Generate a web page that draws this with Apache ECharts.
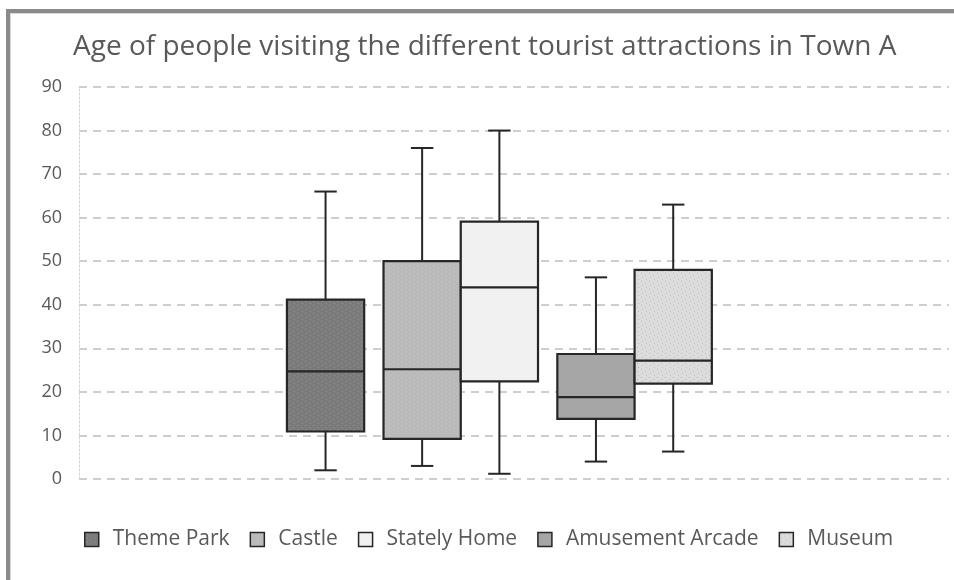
<!DOCTYPE html>
<html>
<head>
<meta charset="utf-8">
<script src="https://cdn.jsdelivr.net/npm/echarts@6/dist/echarts.min.js"></script>
<style>
  html, body { margin: 0; padding: 0; background: #ffffff; }
  #frame { position: absolute; left: 6px; top: 9px; right: 0; bottom: 0;
           border-left: 4px solid #8a8a8a; border-top: 4px solid #8a8a8a;
           box-shadow: inset 1px 1px 0 #d8d8d8; }
  #chart { position: absolute; left: 0; top: 0; width: 954px; height: 580px; }
</style>
</head>
<body>
<div id="frame"></div>
<div id="chart"></div>
<script>
// ---- data ----
const titleText = 'Age of people visiting the different tourist attractions in Town A';
const seriesNames = ['Theme Park', 'Castle', 'Stately Home', 'Amusement Arcade', 'Museum'];
const minimums = [2, 3, 1.2, 4, 6.3];
const lowerQuartiles = [10.9, 9.2, 22.4, 13.8, 21.9];
const medians = [24.7, 25.2, 44, 18.8, 27.2];
const upperQuartiles = [41.2, 50, 59.1, 28.7, 48];
const maximums = [66, 76, 80, 46.3, 63];
const yTicks = { min: 0, max: 90, interval: 10 };

// ---- styles ----
const fills = [
  { base: '#7b7b7b', dot: '#939393' },
  { base: '#bababa', dot: '#c6c6c6' },
  { base: '#f1f1f1', dot: null },
  { base: '#a6a6a6', dot: null },
  { base: '#dcdcdc', dot: '#bcbcbc' }
];
function makePattern(f) {
  const c = document.createElement('canvas');
  c.width = 8; c.height = 8;
  const ctx = c.getContext('2d');
  ctx.fillStyle = f.base; ctx.fillRect(0, 0, 8, 8);
  if (f.dot) {
    ctx.fillStyle = f.dot;
    ctx.fillRect(1, 1, 1, 1);
    ctx.fillRect(5, 3, 1, 1);
    ctx.fillRect(2, 5, 1, 1);
    ctx.fillRect(6, 7, 1, 1);
  }
  return { image: c, repeat: 'repeat' };
}
const patterns = fills.map(makePattern);
const strokeColor = '#262626';

// layout of boxes inside the single category band (fractions of band width)
const BOX_FRAC = 0.0888;
const GROUP_START = 0.239;
const GAP_AFTER = [0.25, 0, 0.25, 0]; // gap after each box, in box widths
const CAP_FRAC = 0.29;

function renderItem(params, api) {
  const si = params.seriesIndex;
  const band = api.size([1, 0])[0];
  const center = api.coord([api.value(0), 0])[0];
  const w = band * BOX_FRAC;
  let x = center - band / 2 + band * GROUP_START;
  for (let i = 0; i < si; i++) x += w * (1 + GAP_AFTER[i]);
  const cx = x + w / 2;
  const yMin = api.coord([0, api.value(1)])[1];
  const yQ1 = api.coord([0, api.value(2)])[1];
  const yMed = api.coord([0, api.value(3)])[1];
  const yQ3 = api.coord([0, api.value(4)])[1];
  const yMax = api.coord([0, api.value(5)])[1];
  const cap = w * CAP_FRAC;
  const ls = { stroke: strokeColor, lineWidth: 2 };
  return {
    type: 'group',
    children: [
      { type: 'line', shape: { x1: cx, y1: yQ3, x2: cx, y2: yMax }, style: ls },
      { type: 'line', shape: { x1: cx, y1: yQ1, x2: cx, y2: yMin }, style: ls },
      { type: 'line', shape: { x1: cx - cap / 2, y1: yMax, x2: cx + cap / 2, y2: yMax }, style: ls },
      { type: 'line', shape: { x1: cx - cap / 2, y1: yMin, x2: cx + cap / 2, y2: yMin }, style: ls },
      { type: 'rect', shape: { x: x, y: yQ3, width: w, height: yQ1 - yQ3 },
        style: { fill: patterns[si], stroke: strokeColor, lineWidth: 2.2 } },
      { type: 'line', shape: { x1: x, y1: yMed, x2: x + w, y2: yMed }, style: { stroke: strokeColor, lineWidth: 2.2 } }
    ]
  };
}

const series = seriesNames.map((name, i) => ({
  name: name,
  type: 'custom',
  renderItem: renderItem,
  encode: { x: 0, y: [1, 2, 3, 4, 5] },
  itemStyle: { color: patterns[i], borderColor: strokeColor, borderWidth: 1.5 },
  data: [[0, minimums[i], lowerQuartiles[i], medians[i], upperQuartiles[i], maximums[i]]]
}));

const chart = echarts.init(document.getElementById('chart'), null, { renderer: 'canvas' });
chart.setOption({
  backgroundColor: 'transparent',
  animation: false,
  textStyle: { fontFamily: 'Open Sans' },
  title: {
    text: titleText,
    left: 68,
    top: 28,
    textStyle: { fontFamily: 'Open Sans', fontSize: 28, fontWeight: 'normal', color: '#595959' }
  },
  legend: {
    data: seriesNames,
    bottom: 25,
    left: 79,
    icon: 'rect',
    itemWidth: 14,
    itemHeight: 14,
    itemGap: 20,
    itemStyle: { borderColor: strokeColor, borderWidth: 1.5 },
    textStyle: { fontFamily: 'Open Sans', fontSize: 21, color: '#595959', padding: [0, 0, 0, 9] }
  },
  grid: { left: 79, right: 5, top: 87, bottom: 101, containLabel: false },
  xAxis: {
    type: 'category',
    data: ['Town A'],
    axisLine: { show: false },
    axisTick: { show: false },
    axisLabel: { show: false },
    splitLine: { show: false }
  },
  yAxis: {
    type: 'value',
    min: yTicks.min,
    max: yTicks.max,
    interval: yTicks.interval,
    axisLine: { show: true, lineStyle: { color: '#d4d4d4', width: 1, type: [2, 2] } },
    axisTick: { show: false },
    axisLabel: { fontFamily: 'Open Sans', fontSize: 18, color: '#595959', margin: 17 },
    splitLine: { show: true, lineStyle: { color: '#bfbfbf', width: 1.5, type: [8, 6] } }
  },
  series: series
});
</script>
</body>
</html>
